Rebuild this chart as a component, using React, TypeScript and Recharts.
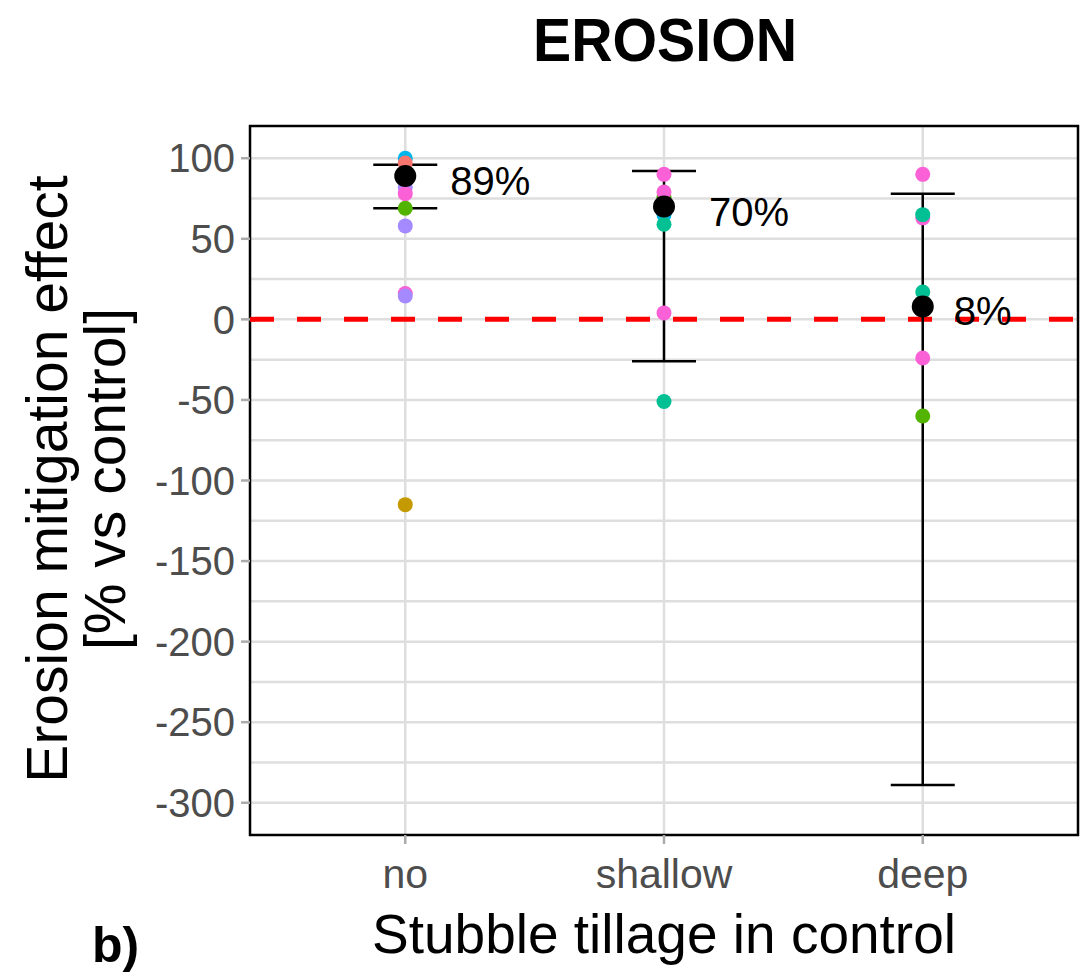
import React from 'react';
import {
  ComposedChart,
  Scatter,
  XAxis,
  YAxis,
  CartesianGrid,
  ReferenceLine,
  ReferenceArea,
  ErrorBar,
} from 'recharts';

// Stubble tillage in the control treatment
const categories = ['no', 'shallow', 'deep'];

// Single-study effects (%), each with its study colour
const noEffects = [100, 97, 82, 78, 69, 58, 16, 14.5, -115];
const noStudies = ['#00B6EB', '#F8766D', '#A58AFF', '#FB61D7', '#53B400', '#A58AFF', '#FB61D7', '#A58AFF', '#C49A00'];
const shallowEffects = [90, 76, 79, 65, 59, 4, -51];
const shallowStudies = ['#FB61D7', '#53B400', '#FB61D7', '#00B6EB', '#00C094', '#FB61D7', '#00C094'];
const deepEffects = [90, 63, 65, 17, -24, -60];
const deepStudies = ['#FB61D7', '#FB61D7', '#00C094', '#00C094', '#FB61D7', '#53B400'];

// Mean effect and its interval
const meanEffects = [89, 70, 8];
const ciLower = [69, -26, -289];
const ciUpper = [96, 92, 78];

const yTicks = [100, 50, 0, -50, -100, -150, -200, -250, -300];
const yMinor = [75, 25, -25, -75, -125, -175, -225, -275];

// horizontal offset of the mean labels
const labelDx = [45, 45, 31];

const FONT = '"Liberation Sans", Arial, sans-serif';

const studyPoints = [noEffects, shallowEffects, deepEffects].flatMap((vals, c) => {
  const cols = [noStudies, shallowStudies, deepStudies][c];
  return vals.map((v, i) => ({ x: c + 1, y: v, color: cols[i] }));
});

const meanPoints = meanEffects.map((m, i) => ({
  x: i + 1,
  y: m,
  i,
  err: [m - ciLower[i], ciUpper[i] - m],
}));

const StudyDot = (props: any) => (
  <circle cx={props.cx} cy={props.cy} r={7.5} fill={props.payload.color} />
);

const MeanDot = (props: any) => {
  const { cx, cy, payload } = props;
  return (
    <g>
      <circle cx={cx} cy={cy} r={11} fill="#000" />
      <text
        x={cx + labelDx[payload.i]}
        y={cy + 5}
        dominantBaseline="central"
        fontSize={40}
        fontFamily={FONT}
        fill="#000"
      >
        {payload.y}%
      </text>
    </g>
  );
};

const Nothing = () => <g />;

export default function App() {
  return (
    <div style={{ position: 'absolute', left: 0, top: 0, width: 1088, height: 976, background: '#fff', fontFamily: FONT }}>
      <ComposedChart
        width={1088}
        height={976}
        margin={{ top: 126, right: 10, bottom: 0, left: 0 }}
        style={{ fontFamily: FONT }}
      >
        <CartesianGrid
          horizontalValues={[...yTicks, ...yMinor]}
          verticalValues={[1, 2, 3]}
          stroke="#DEDEDE"
          strokeWidth={2.5}
        />
        <XAxis
          type="number"
          dataKey="x"
          domain={[0.4, 3.6]}
          ticks={[1, 2, 3]}
          interval={0}
          tickFormatter={(v: number) => categories[v - 1]}
          height={141}
          axisLine={false}
          tickSize={9}
          tickMargin={15}
          tickLine={{ stroke: '#ABABAB', strokeWidth: 2.5 }}
          tick={{ fill: '#4D4D4D', fontSize: 41, fontFamily: FONT }}
        />
        <YAxis
          type="number"
          dataKey="y"
          domain={[-320, 120]}
          ticks={yTicks}
          interval={0}
          width={250}
          axisLine={false}
          tickSize={9}
          tickMargin={6}
          tickLine={{ stroke: '#ABABAB', strokeWidth: 2.5 }}
          tick={{ fill: '#4D4D4D', fontSize: 40, fontFamily: FONT }}
        />
        <ReferenceLine y={0} stroke="#FF0000" strokeWidth={5} strokeDasharray="24 23" />
        <Scatter data={meanPoints} shape={Nothing} isAnimationActive={false}>
          <ErrorBar dataKey="err" direction="y" width={32} stroke="#000" strokeWidth={2.5} isAnimationActive={false} />
        </Scatter>
        <Scatter data={studyPoints} shape={StudyDot} isAnimationActive={false} />
        <Scatter data={meanPoints} shape={MeanDot} isAnimationActive={false} />
        <ReferenceArea x1={0.4} x2={3.6} y1={-320} y2={120} fill="none" stroke="#000" strokeWidth={2.5} />
      </ComposedChart>
      <svg
        width={1088}
        height={976}
        style={{ position: 'absolute', left: 0, top: 0, pointerEvents: 'none' }}
        fontFamily={FONT}
      >
        <text x={665} y={61} textAnchor="middle" fontSize={61} fontWeight="bold" textLength={264} lengthAdjust="spacingAndGlyphs">
          EROSION
        </text>
        <text transform="translate(67,479) rotate(-90)" textAnchor="middle" fontSize={57}>
          Erosion mitigation effect
        </text>
        <text transform="translate(125,479) rotate(-90)" textAnchor="middle" fontSize={57}>
          [% vs control]
        </text>
        <text x={664} y={953} textAnchor="middle" fontSize={55}>
          Stubble tillage in control
        </text>
        <text x={92} y={962} fontSize={50} fontWeight="bold">
          b)
        </text>
      </svg>
    </div>
  );
}
